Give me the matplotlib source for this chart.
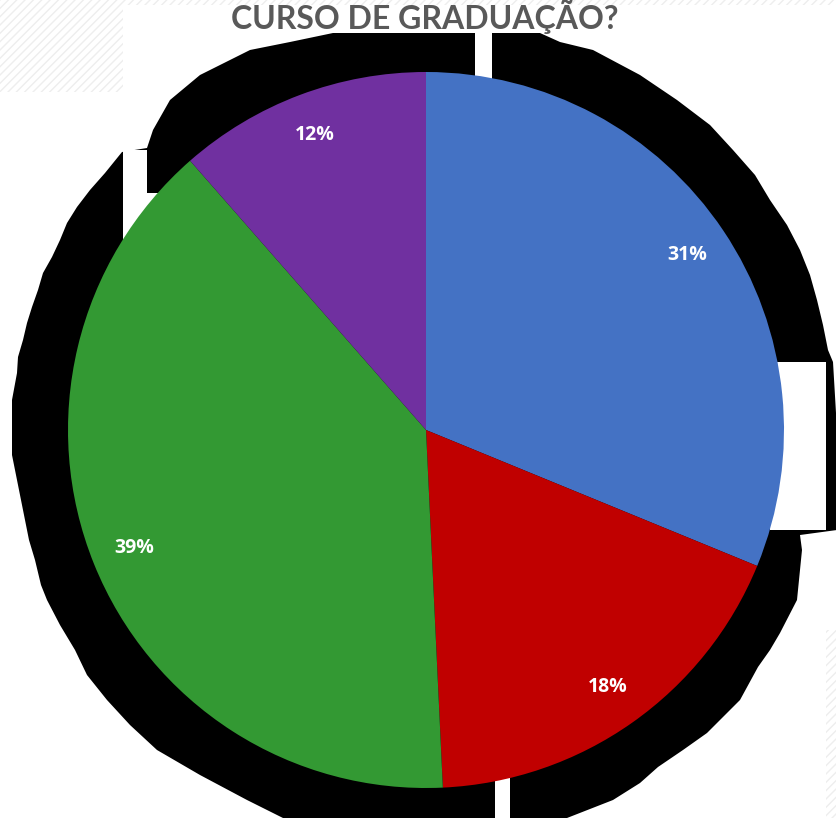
import matplotlib
matplotlib.use("Agg")
import matplotlib.pyplot as plt
from matplotlib.patches import Polygon, Rectangle

# Data
categories = ["A", "B", "C", "D"]
values = [31.2, 18.05, 39.3, 11.45]
labels_pct = ["31%", "18%", "39%", "12%"]
colors = ["#4472C4", "#C00000", "#339933", "#7030A0"]
title = "CURSO DE GRADUAÇÃO?"

W, H = 837, 818
fig = plt.figure(figsize=(W / 100, H / 100), dpi=100)
ax = fig.add_axes([0, 0, 1, 1])

def Y(y):
    return H - y

# hatched light background pieces (decoration)
for (x0, y0, w, h) in [(0, 0, 123, 92), (0, 0, W, 5), (826, 630, 11, 188)]:
    ax.add_patch(Rectangle((x0, Y(y0 + h)), w, h, facecolor="white",
                           edgecolor="#eeeeee", hatch="////", linewidth=0, zorder=0))

# black shadow shape behind the pie (decoration)
shadow = [(122, 152), (147, 148), (153, 130), (170, 100), (200, 75), (250, 50), (290, 42),
          (333, 33), (540, 33), (560, 42), (593, 50), (640, 75), (677, 100), (710, 125),
          (733, 150), (755, 175), (770, 200), (787, 225), (800, 250), (810, 275), (817, 300),
          (823, 325), (828, 350), (833, 362), (837, 430), (837, 530), (800, 535), (802, 550),
          (797, 600), (780, 633), (770, 650), (758, 667), (740, 700), (707, 733), (683, 750),
          (658, 767), (640, 783), (613, 800), (567, 818), (283, 818), (247, 800), (200, 775),
          (157, 750), (130, 725), (107, 700), (87, 675), (75, 650), (60, 625), (47, 600),
          (41, 585), (35, 560), (29, 540), (23, 510), (17, 480), (12, 455), (12, 400),
          (17, 373), (18, 357), (23, 340), (27, 323), (32, 307), (38, 290), (43, 273),
          (52, 257), (60, 240), (67, 223), (77, 207), (90, 190), (105, 173)]
ax.add_patch(Polygon([(x, Y(y)) for x, y in shadow], closed=True, facecolor="black",
                     edgecolor="none", zorder=1))
# white gaps in the shadow
for (x0, y0, w, h) in [(123, 150, 24, 95), (147, 193, 12, 20), (475, 25, 17, 55),
                       (770, 362, 56, 168), (495, 778, 15, 40)]:
    ax.add_patch(Rectangle((x0, Y(y0 + h)), w, h, facecolor="white",
                           edgecolor="none", zorder=2))

cx, cy, r = 426, Y(430), 358
wedges, texts, autotexts = ax.pie(
    values, colors=colors, startangle=90, counterclock=False,
    center=(cx, cy), radius=r, labels=None,
    autopct=lambda p: "", pctdistance=0.88,
    wedgeprops=dict(linewidth=0), frame=True)
for w in wedges:
    w.set_zorder(3)
ax.set_xlim(0, W)
ax.set_ylim(0, H)
ax.set_aspect("equal")
ax.axis("off")
for t, lab in zip(autotexts, labels_pct):
    t.set_text(lab)
    t.set_color("white")
    t.set_fontsize(14)
    t.set_fontweight("bold")
    t.set_family(["Open Sans", "DejaVu Sans"])
    t.set_zorder(5)

ax.text(425, Y(29), title, ha="center", va="baseline", fontsize=23,
        fontweight="bold", color="#595959", family=["Lato", "DejaVu Sans"], zorder=6)

fig.savefig("out.png", dpi=100)
